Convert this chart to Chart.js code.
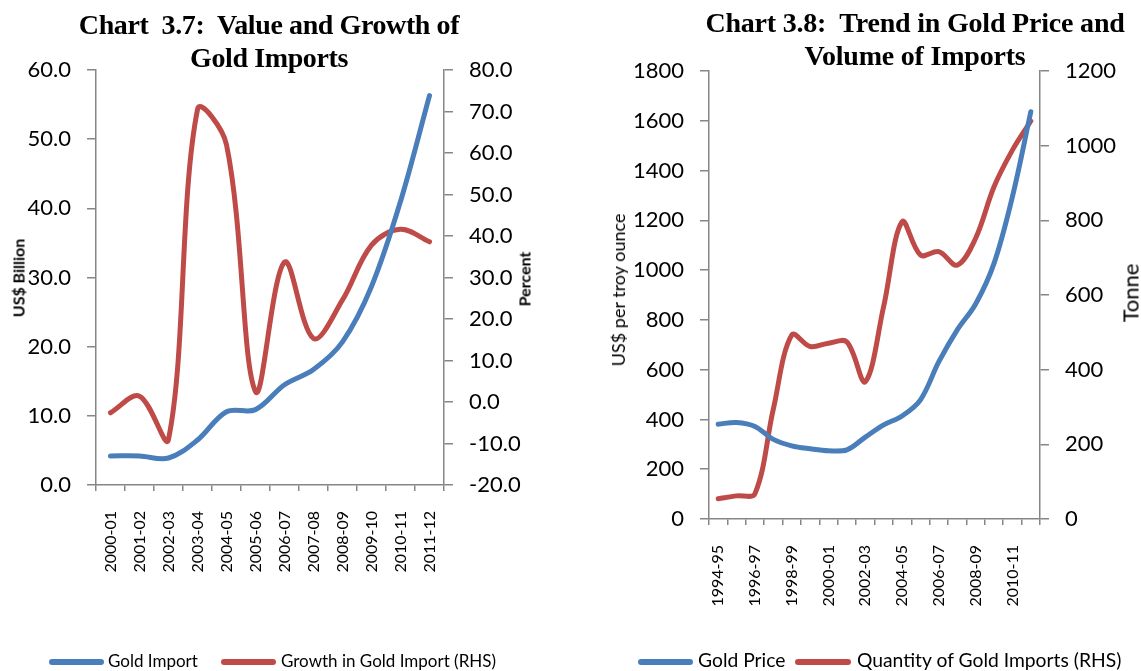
<!DOCTYPE html>
<html>
<head>
<meta charset="utf-8">
<script src="https://cdn.jsdelivr.net/npm/chart.js@4.4.1/dist/chart.umd.min.js"></script>
<style>
  html, body { margin:0; padding:0; background:#fff; }
  body { width:1141px; height:671px; position:relative; overflow:hidden; }
  .wrap { position:absolute; top:0; height:671px; }
  .title { position:absolute; font-family:'Liberation Serif', serif; font-weight:bold; font-size:28px;
           line-height:33.4px; text-align:center; white-space:pre; color:#000; }
  .atitle { position:absolute; font-family:'Lato', sans-serif; white-space:nowrap; color:#000;
            transform:translate(-50%,-50%) rotate(-90deg); transform-origin:center center; }
  .sw { position:absolute; height:6px; border-radius:3px; top:658.5px; }
  .lt { position:absolute; top:651px; font-family:'Lato', sans-serif; font-size:17px; line-height:20px; color:#000; white-space:nowrap; }
  .lt2 { font-size:19.3px; top:650px; }
</style>
</head>
<body>
<div class="wrap" style="left:0;width:545px;"><canvas id="c1"></canvas></div>
<div class="wrap" style="left:620px;width:520px;"><canvas id="c2"></canvas></div>

<div class="title" style="left:19px;width:500px;top:8px;letter-spacing:-0.4px;">Chart  3.7:  Value and Growth of
Gold Imports</div>
<div class="title" style="left:665px;width:500px;top:6px;letter-spacing:-0.2px;">Chart 3.8:  Trend in Gold Price and
Volume of Imports</div>

<div class="atitle" style="left:17.5px;top:278px;font-size:16px;font-weight:bold;">US$ Billion</div>
<div class="atitle" style="left:524px;top:279px;font-size:16px;font-weight:bold;">Percent</div>
<div class="atitle" style="left:618px;top:290px;font-size:18px;">US$ per troy ounce</div>
<div class="atitle" style="left:1130px;top:293px;font-size:22px;">Tonne</div>

<div class="sw" style="left:49px;width:55px;background:#4A7EBB;"></div>
<div class="lt" style="left:108px;">Gold Import</div>
<div class="sw" style="left:221px;width:55px;background:#BE4B48;"></div>
<div class="lt" style="left:281px;">Growth in Gold Import (RHS)</div>

<div class="sw" style="left:638px;width:55px;background:#4A7EBB;"></div>
<div class="lt lt2" style="left:698px;">Gold Price</div>
<div class="sw" style="left:795px;width:56px;background:#BE4B48;"></div>
<div class="lt lt2" style="left:857px;">Quantity of Gold Imports (RHS)</div>

<script>
// ---- Chart 3.7 data ----
const years37 = ['2000-01','2001-02','2002-03','2003-04','2004-05','2005-06','2006-07','2007-08','2008-09','2009-10','2010-11','2011-12'];
const goldImport = [4.2, 4.2, 3.9, 6.5, 10.6, 10.9, 14.5, 16.7, 20.7, 28.7, 41.0, 56.3];
const goldImportGrowth = [-2.6, 1.4, -9.0, 70.5, 62.0, 2.5, 33.7, 15.3, 24.6, 37.8, 41.6, 38.6];
const leftTicks37 = [0, 10, 20, 30, 40, 50, 60];
const rightTicks37 = [-20, -10, 0, 10, 20, 30, 40, 50, 60, 70, 80];

// ---- Chart 3.8 data ----
const years38 = ['1994-95','1995-96','1996-97','1997-98','1998-99','1999-00','2000-01','2001-02','2002-03','2003-04','2004-05','2005-06','2006-07','2007-08','2008-09','2009-10','2010-11','2011-12'];
const goldPrice = [381, 388, 372, 320, 294, 282, 274, 278, 329, 378, 414, 479, 632, 760, 864, 1027, 1295, 1636];
const goldQuantity = [54, 62, 68, 295, 493, 462, 471, 474, 368, 570, 796, 707, 716, 680, 752, 890, 988, 1066];
const xTickLabels38 = ['1994-95','','1996-97','','1998-99','','2000-01','','2002-03','','2004-05','','2006-07','','2008-09','','2010-11',''];
const leftTicks38 = [0, 200, 400, 600, 800, 1000, 1200, 1400, 1600, 1800];
const rightTicks38 = [0, 200, 400, 600, 800, 1000, 1200];

const BLUE = '#4A7EBB', RED = '#BE4B48', AXIS = '#868686';

function lineDs(label, data, color, axis) {
  return { label, data, borderColor: color, backgroundColor: color, borderWidth: 5,
           pointRadius: 0, tension: 0.35, fill: false, yAxisID: axis,
           borderCapStyle: 'round', borderJoinStyle: 'round' };
}

function yAxis(pos, ticksArr, width, decimals) {
  return {
    type: 'linear', position: pos,
    min: ticksArr[0], max: ticksArr[ticksArr.length - 1],
    afterBuildTicks: (s) => { s.ticks = ticksArr.map(v => ({ value: v })); },
    afterFit: (s) => { s.width = width; },
    grid: { drawOnChartArea: false, drawTicks: true, tickLength: 9, color: AXIS, lineWidth: 1.5 },
    border: { display: true, color: AXIS, width: 1.5 },
    ticks: { color: '#000', padding: 16, font: { family: 'Lato', size: 22 },
             callback: (v) => decimals ? Number(v).toFixed(1) : String(v) }
  };
}

function xAxis(labelsShown, height) {
  return {
    type: 'category', offset: true,
    afterFit: (s) => { s.height = height; },
    grid: { offset: true, drawOnChartArea: false, drawTicks: true, tickLength: 6, color: AXIS, lineWidth: 1.5 },
    border: { display: true, color: AXIS, width: 1.5 },
    ticks: { color: '#000', padding: 20, autoSkip: false, maxRotation: 90, minRotation: 90,
             font: { family: 'Lato', size: 16 },
             callback: (v, i) => labelsShown[i] }
  };
}

const common = {
  responsive: true, maintainAspectRatio: false, animation: false, devicePixelRatio: 1,
  plugins: { legend: { display: false }, tooltip: { enabled: false }, title: { display: false } }
};

new Chart(document.getElementById('c1'), {
  type: 'line',
  data: { labels: years37, datasets: [
    lineDs('Gold Import', goldImport, BLUE, 'y'),
    lineDs('Growth in Gold Import (RHS)', goldImportGrowth, RED, 'y1')
  ]},
  options: Object.assign({}, common, {
    layout: { padding: { top: 70, left: 0, right: 0, bottom: 0 } },
    scales: {
      x: xAxis(years37, 186),
      y: yAxis('left', leftTicks37, 96, true),
      y1: yAxis('right', rightTicks37, 101, true)
    }
  })
});

new Chart(document.getElementById('c2'), {
  type: 'line',
  data: { labels: years38, datasets: [
    lineDs('Gold Price', goldPrice, BLUE, 'y'),
    lineDs('Quantity of Gold Imports (RHS)', goldQuantity, RED, 'y1')
  ]},
  options: Object.assign({}, common, {
    layout: { padding: { top: 71, left: 0, right: 0, bottom: 0 } },
    scales: {
      x: xAxis(xTickLabels38, 152),
      y: yAxis('left', leftTicks38, 89, false),
      y1: yAxis('right', rightTicks38, 100, false)
    }
  })
});
</script>
</body>
</html>
